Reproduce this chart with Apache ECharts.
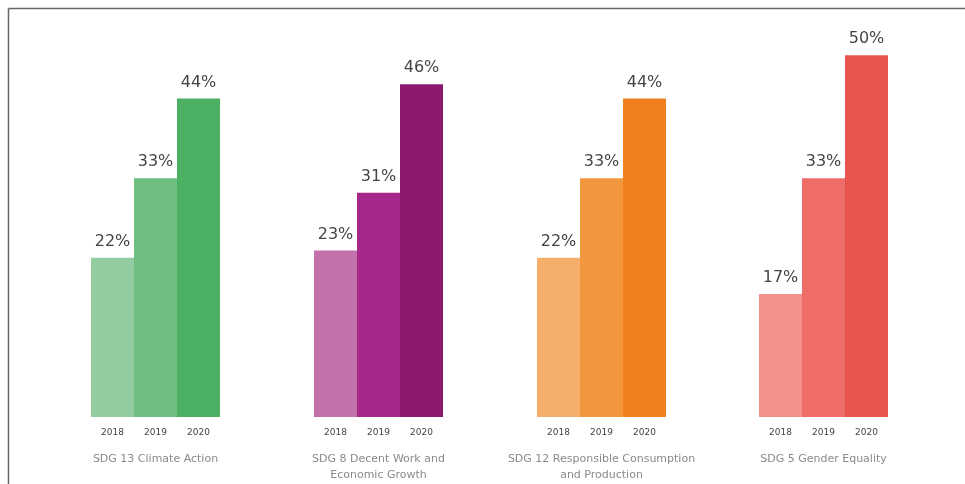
<!DOCTYPE html>
<html><head><meta charset="utf-8">
<script src="https://cdn.jsdelivr.net/npm/echarts@6/dist/echarts.min.js"></script>
<style>html,body{margin:0;padding:0;background:#fff}#c{width:965px;height:484px}</style>
</head><body><div id="c"></div>
<script>
const years = ['2018', '2019', '2020'];
const groupNames = ['SDG 13 Climate Action', 'SDG 8 Decent Work and\nEconomic Growth', 'SDG 12 Responsible Consumption\nand Production', 'SDG 5 Gender Equality'];
const climateAction = [22, 33, 44];
const decentWork = [23, 31, 46];
const responsibleConsumption = [22, 33, 44];
const genderEquality = [17, 33, 50];
const groupValues = [climateAction, decentWork, responsibleConsumption, genderEquality];
const groupColors = [
  ['#92cca0', '#6ebf80', '#4cb162'],
  ['#c271ab', '#a8278b', '#8b1a6f'],
  ['#f5ae6b', '#f2973d', '#ef7f1f'],
  ['#f2928b', '#ee6d67', '#ea544f']
];

const chart = echarts.init(document.getElementById('c'), null, {renderer: 'canvas'});
const lefts = [91, 314, 537, 759];
const grids = [], xAxes = [], yAxes = [], series = [];
groupValues.forEach((vals, i) => {
  grids.push({left: lefts[i], width: 129, top: 19, bottom: 67, containLabel: false, outerBoundsMode: 'none'});
  xAxes.push({
    type: 'category', gridIndex: i, data: years,
    axisLine: {show: false}, axisTick: {show: false},
    axisLabel: {color: '#444', fontSize: 9, margin: 11, fontFamily: 'DejaVu Sans'},
    name: groupNames[i], nameLocation: 'middle', nameGap: 34,
    nameTextStyle: {color: '#8a8a8a', fontSize: 11, fontFamily: 'DejaVu Sans', lineHeight: 16, verticalAlign: 'top'}
  });
  yAxes.push({type: 'value', gridIndex: i, min: 0, max: 55, show: false, splitLine: {show: false}});
  series.push({
    type: 'bar', xAxisIndex: i, yAxisIndex: i, barCategoryGap: '0%',
    data: vals.map((v, j) => ({value: v, itemStyle: {color: groupColors[i][j]}})),
    label: {show: true, position: 'top', distance: 8, formatter: '{c}%', color: '#454545', fontSize: 16, fontFamily: 'DejaVu Sans'},
    silent: true, animation: false
  });
});

chart.setOption({
  animation: false,
  grid: grids, xAxis: xAxes, yAxis: yAxes, series: series,
  graphic: [
    {type: 'line', shape: {x1: 8.5, y1: 8.5, x2: 965, y2: 8.5}, style: {stroke: '#666', lineWidth: 1.5}},
    {type: 'line', shape: {x1: 8.5, y1: 8.5, x2: 8.5, y2: 484}, style: {stroke: '#666', lineWidth: 1.5}}
  ]
});
</script></body></html>
